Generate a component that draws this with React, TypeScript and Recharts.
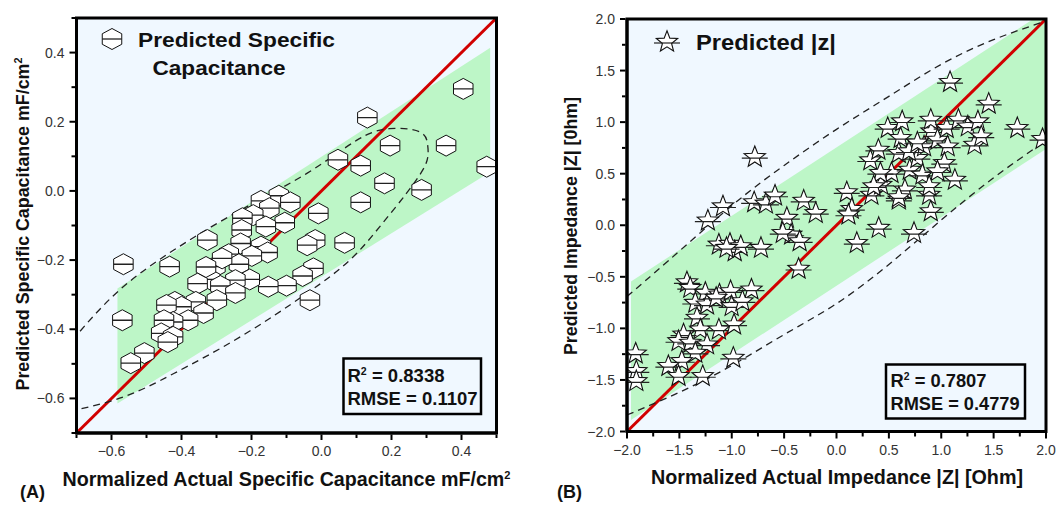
import React from 'react';
import { ComposedChart, Scatter, Line, Area, XAxis, YAxis, CartesianGrid } from 'recharts';

const FONT = '"Liberation Sans", Arial, sans-serif';
const BG = '#f0f8ff';
const BAND = '#bdf6c7';
const RED = '#d10000';

// ---------- (A) specific capacitance ----------
const capActual = [0.405, 0.131, 0.196, 0.356, 0.472, 0.047, 0.112, 0.18, 0.286, 0.112, -0.009, 0.066, -0.018, -0.041, -0.023, -0.054, -0.033, -0.1, -0.152, -0.122, -0.089, -0.173, -0.149, -0.195, -0.105, -0.226, -0.228, -0.159, -0.231, -0.173, -0.154, -0.326, -0.265, -0.199, -0.236, -0.303, -0.434, -0.566, -0.205, -0.246, -0.318, -0.289, -0.354, -0.246, -0.299, -0.359, -0.337, -0.419, -0.4, -0.443, -0.569, -0.381, -0.424, -0.45, -0.458, -0.424, -0.439, -0.506, -0.545, -0.284, -0.33];
const capPredicted = [0.295, 0.212, 0.131, 0.131, 0.07, 0.09, 0.073, 0.022, 0.003, -0.033, -0.065, -0.15, -0.142, -0.157, -0.224, -0.246, -0.316, -0.274, -0.277, -0.014, -0.033, -0.029, -0.05, -0.07, -0.092, -0.079, -0.113, -0.103, -0.152, -0.161, -0.178, -0.142, -0.183, -0.188, -0.212, -0.219, -0.219, -0.212, -0.256, -0.258, -0.256, -0.275, -0.268, -0.295, -0.316, -0.321, -0.353, -0.321, -0.335, -0.33, -0.374, -0.374, -0.379, -0.374, -0.412, -0.422, -0.437, -0.469, -0.498, -0.195, -0.22];

// confidence ellipse outline (runs off the left edge)
const capEllipseX = [-0.712, -0.583, -0.422, -0.232, -0.043, 0.1, 0.194, 0.28, 0.303, 0.304, 0.289, 0.242, 0.166, 0.081, -0.043, -0.232, -0.422, -0.564, -0.712];
const capEllipseY = [-0.432, -0.292, -0.171, -0.056, 0.05, 0.146, 0.18, 0.171, 0.135, 0.1, 0.06, -0.008, -0.104, -0.2, -0.297, -0.422, -0.528, -0.595, -0.636];

// prediction band
const capBandX = [-0.583, 0.482];
const capBandLow = [-0.615, 0.055];
const capBandHigh = [-0.282, 0.414];

const capDomain: [number, number] = [-0.7, 0.5];
const capTicks = [-0.7, -0.6, -0.5, -0.4, -0.3, -0.2, -0.1, 0, 0.1, 0.2, 0.3, 0.4, 0.5];
const capMajorTicks = [-0.6, -0.4, -0.2, 0, 0.2, 0.4];

// ---------- (B) impedance ----------
const zActual = [1.084, 1.453, 1.726, 1.967, -0.78, -1.084, -1.228, -0.786, -0.674, -0.587, -0.313, -0.198, -0.474, -0.433, -0.352, -1.123, -1.017, -0.972, -0.914, -0.721, -0.362, 0.098, 0.146, 0.114, 0.194, 0.403, 0.74, 0.333, 0.426, 0.595, 0.653, 0.884, 0.9, 1.13, 0.323, 0.4, 0.489, 0.627, 0.612, 0.595, 0.525, 0.419, 0.699, 0.772, 0.836, 0.82, 0.907, 0.9, 0.964, 1.052, 1.061, 1.029, 0.964, 1.164, 1.254, 1.35, 1.318, 1.382, 0.692, 0.772, -1.428, -1.396, -1.252, -1.117, -1.011, -0.812, -1.348, -1.236, -1.149, -1.001, -0.898, -1.332, -1.3, -1.123, -0.978, -1.46, -1.508, -1.396, -1.236, -1.348, -1.477, -1.605, -1.508, -1.277, -0.985, -1.917, -1.911, -1.911, -1.05, -0.513, 0.355, 0.885, 0.595];
const zPredicted = [1.387, 1.177, 0.941, 0.835, 0.66, 0.182, 0.044, 0.221, 0.208, 0.286, 0.237, 0.118, 0.07, -0.092, -0.157, -0.189, -0.182, -0.254, -0.205, -0.221, -0.424, 0.318, 0.157, 0.102, -0.173, -0.027, -0.076, 0.295, 0.392, 0.247, 0.344, 0.295, 0.134, 0.44, 0.628, 0.731, 0.941, 1.006, 0.844, 0.699, 0.505, 0.505, 0.537, 0.651, 0.763, 0.489, 0.909, 1.022, 0.828, 0.941, 0.763, 0.602, 0.521, 1.022, 0.957, 1.006, 0.78, 0.86, 0.715, 0.8, -0.554, -0.609, -0.657, -0.673, -0.641, -0.625, -0.754, -0.77, -0.705, -0.786, -0.738, -0.899, -1.012, -1.012, -0.964, -1.06, -1.125, -1.141, -1.157, -1.238, -1.319, -1.367, -1.464, -1.464, -1.286, -1.245, -1.416, -1.513, -0.221, -0.076, 0.376, 0.376, 0.27];

const zUpperX = [-2.0, -1.6, -1.0, -0.5, 0.0, 0.5, 1.0, 1.5, 2.0];
const zUpperY = [-0.69, -0.34, 0.19, 0.58, 0.93, 1.25, 1.56, 1.8, 1.98];
const zLowerX = [-2.0, -1.5, -1.0, -0.5, 0.0, 0.5, 1.0, 1.5, 2.0];
const zLowerY = [-1.84, -1.62, -1.36, -1.06, -0.76, -0.38, 0.05, 0.46, 0.82];

const zBandX = [-1.962, 2.0];
const zBandLow = [-1.888, 0.74];
const zBandHigh = [-0.546, 2.08];

const zDomain: [number, number] = [-2, 2];
const zTicks = [-2, -1.75, -1.5, -1.25, -1, -0.75, -0.5, -0.25, 0, 0.25, 0.5, 0.75, 1, 1.25, 1.5, 1.75, 2];
const zMajorTicks = [-2, -1.5, -1, -0.5, 0, 0.5, 1, 1.5, 2];

// plot boxes (chart-relative) and where each chart sits on the page
const boxA = { offset: 0, width: 530, left: 76.5, right: 496.5, top: 18, bottom: 433 };
const boxB = { offset: 530, width: 526, left: 97, right: 516, top: 19, bottom: 431.5 };

type Pt = { x: number; y: number };
type Box = typeof boxA;
const zip = (xs: number[], ys: number[]): Pt[] => xs.map((x, i) => ({ x, y: ys[i] }));
const bandRows = (xs: number[], lo: number[], hi: number[]) => xs.map((x, i) => ({ x, band: [lo[i], hi[i]] }));

const fmt = (v: number) => (Math.abs(v) < 1e-9 ? '0.0' : (v < 0 ? '\u2212' : '') + Math.abs(v).toFixed(1));
const isMajor = (majors: number[], v: number) => majors.some((m) => Math.abs(m - v) < 1e-6);

function Hexagon(props: any) {
  const { cx, cy } = props;
  if (cx == null || cy == null) return <g />;
  const w = 9.75;
  const h = 10.5;
  const pts = [[0, -h], [w, -h / 2], [w, h / 2], [0, h], [-w, h / 2], [-w, -h / 2]];
  return (
    <g>
      <polygon points={pts.map((p) => `${cx + p[0]},${cy + p[1]}`).join(' ')} fill="#fff" stroke="#111" strokeWidth={1} />
      <line x1={cx - w} x2={cx + w} y1={cy} y2={cy} stroke="#222" strokeWidth={1.3} />
    </g>
  );
}

function Star(props: any) {
  const { cx, cy } = props;
  if (cx == null || cy == null) return <g />;
  const R = 11.2;
  const r = 4.8;
  const pts: string[] = [];
  for (let i = 0; i < 10; i++) {
    const a = -Math.PI / 2 + (i * Math.PI) / 5;
    const rad = i % 2 === 0 ? R : r;
    pts.push(`${cx + rad * Math.cos(a)},${cy + rad * Math.sin(a)}`);
  }
  return (
    <g>
      <polygon points={pts.join(' ')} fill="#fff" stroke="#111" strokeWidth={1.1} />
      <line x1={cx - 13} x2={cx + 13} y1={cy + 1} y2={cy + 1} stroke="#222" strokeWidth={1.2} />
    </g>
  );
}

const makeXTick = (majors: number[]) => (props: any) => {
  const { x, y, payload } = props;
  const major = isMajor(majors, payload.value);
  return (
    <g>
      <line x1={x} x2={x} y1={y + 1.5} y2={y + (major ? 7 : 5)} stroke="#000" strokeWidth={2} />
      {major && (
        <text x={x} y={y + 23} textAnchor="middle" fontSize={14} fill="#333" fontFamily={FONT}>
          {fmt(payload.value)}
        </text>
      )}
    </g>
  );
};

const makeYTick = (majors: number[]) => (props: any) => {
  const { x, y, payload } = props;
  const major = isMajor(majors, payload.value);
  return (
    <g>
      <line x1={x - 1.5} x2={x - (major ? 7 : 5)} y1={y} y2={y} stroke="#000" strokeWidth={2} />
      {major && (
        <text x={x - 12} y={y + 5} textAnchor="end" fontSize={14} fill="#333" fontFamily={FONT}>
          {fmt(payload.value)}
        </text>
      )}
    </g>
  );
};

const titleLabel = (x: number, y: number, len: number, size: number, text: React.ReactNode, rotate: boolean) => ({
  content: () => (
    <text
      x={x}
      y={y}
      textAnchor="middle"
      fontSize={size}
      fontWeight="bold"
      fontFamily={FONT}
      fill="#111"
      textLength={len}
      lengthAdjust="spacingAndGlyphs"
      transform={rotate ? `rotate(-90 ${x} ${y})` : undefined}
    >
      {text}
    </text>
  ),
});

type PanelProps = {
  box: Box;
  domain: [number, number];
  ticks: number[];
  majors: number[];
  points: Pt[];
  shape: (p: any) => React.ReactElement;
  band: { x: number; band: number[] }[];
  curves: Pt[][];
  xTitle: { x: number; y: number; len: number; text: React.ReactNode };
  yTitle: { x: number; y: number; len: number; text: React.ReactNode };
};

function Panel(p: PanelProps) {
  const height = 506;
  const b = p.box;
  const frame = { stroke: '#000', strokeWidth: 3 };
  const identity = zip(p.domain, p.domain);
  return (
    <ComposedChart width={b.width} height={height} margin={{ top: b.top, right: b.width - b.right, bottom: 0, left: 0 }}>
      <CartesianGrid fill={BG} horizontal={false} vertical={false} />
      <XAxis
        dataKey="x"
        type="number"
        domain={p.domain}
        allowDataOverflow
        ticks={p.ticks}
        interval={0}
        height={height - b.bottom}
        tickSize={0}
        tickMargin={0}
        tickLine={false}
        axisLine={frame}
        tick={makeXTick(p.majors)}
        label={titleLabel(p.xTitle.x, p.xTitle.y, p.xTitle.len, 19.5, p.xTitle.text, false)}
      />
      <YAxis
        dataKey="y"
        type="number"
        domain={p.domain}
        allowDataOverflow
        ticks={p.ticks}
        interval={0}
        width={b.left}
        tickSize={0}
        tickMargin={0}
        tickLine={false}
        axisLine={frame}
        tick={makeYTick(p.majors)}
        label={titleLabel(p.yTitle.x, p.yTitle.y, p.yTitle.len, 18, p.yTitle.text, true)}
      />
      <Area data={p.band} dataKey="band" type="linear" stroke="none" fill={BAND} fillOpacity={1} isAnimationActive={false} />
      <Line data={identity} dataKey="y" type="linear" stroke={RED} strokeWidth={3} dot={false} isAnimationActive={false} />
      {p.curves.map((c, i) => (
        <Line key={i} data={c} dataKey="y" type="natural" stroke="#222" strokeWidth={1.3} strokeDasharray="7 5" dot={false} isAnimationActive={false} />
      ))}
      <Scatter data={p.points} shape={p.shape} isAnimationActive={false} />
    </ComposedChart>
  );
}

const Frame = ({ box }: { box: Box }) => (
  <rect
    x={box.offset + box.left}
    y={box.top}
    width={box.right - box.left}
    height={box.bottom - box.top}
    fill="none"
    stroke="#000"
    strokeWidth={3}
  />
);

export default function App() {
  const capPoints = zip(capActual, capPredicted);
  const zPoints = zip(zActual, zPredicted);
  return (
    <div style={{ position: 'absolute', left: 0, top: 0, width: 1056, height: 506, background: '#fff', fontFamily: FONT }}>
      <div style={{ position: 'absolute', left: boxA.offset, top: 0 }}>
        <Panel
          box={boxA}
          domain={capDomain}
          ticks={capTicks}
          majors={capMajorTicks}
          points={capPoints}
          shape={Hexagon}
          band={bandRows(capBandX, capBandLow, capBandHigh)}
          curves={[zip(capEllipseX, capEllipseY)]}
          xTitle={{ x: 286.5, y: 486, len: 448, text: <>Normalized Actual Specific Capacitance mF/cm<tspan dy={-7} fontSize={11}>2</tspan></> }}
          yTitle={{ x: 28.5, y: 224, len: 333, text: <>Predicted Specific Capacitance mF/cm<tspan dy={-7} fontSize={11}>2</tspan></> }}
        />
      </div>
      <div style={{ position: 'absolute', left: boxB.offset, top: 0 }}>
        <Panel
          box={boxB}
          domain={zDomain}
          ticks={zTicks}
          majors={zMajorTicks}
          points={zPoints}
          shape={Star}
          band={bandRows(zBandX, zBandLow, zBandHigh)}
          curves={[zip(zUpperX, zUpperY), zip(zLowerX, zLowerY)]}
          xTitle={{ x: 307, y: 484, len: 372, text: 'Normalized Actual Impedance |Z| [Ohm]' }}
          yTitle={{ x: 47, y: 226, len: 258, text: 'Predicted Impedance |Z| [0hm]' }}
        />
      </div>
      <svg width={1056} height={506} style={{ position: 'absolute', left: 0, top: 0, pointerEvents: 'none' }} fontFamily={FONT}>
        <Frame box={boxA} />
        <Frame box={boxB} />

        <Hexagon cx={112} cy={39} />
        <text x={138} y={47} fontSize={21} fontWeight="bold" fill="#111" textLength={197} lengthAdjust="spacingAndGlyphs">Predicted Specific</text>
        <text x={152.5} y={75} fontSize={21} fontWeight="bold" fill="#111" textLength={133} lengthAdjust="spacingAndGlyphs">Capacitance</text>
        <Star cx={667} cy={42} />
        <text x={696} y={50} fontSize={22} fontWeight="bold" fill="#111" textLength={140} lengthAdjust="spacingAndGlyphs">Predicted |z|</text>

        <rect x={343.5} y={358.5} width={137.5} height={55.5} fill="none" stroke="#000" strokeWidth={2.5} />
        <text x={347.5} y={382} fontSize={17.5} fontWeight="bold" fill="#111" textLength={97} lengthAdjust="spacingAndGlyphs">
          R<tspan dy={-7} fontSize={10}>2</tspan><tspan dy={7}> = 0.8338</tspan>
        </text>
        <text x={347.5} y={405} fontSize={17.5} fontWeight="bold" fill="#111" textLength={130} lengthAdjust="spacingAndGlyphs">RMSE = 0.1107</text>

        <rect x={886} y={364.5} width={139} height={54} fill="none" stroke="#000" strokeWidth={2.5} />
        <text x={890.5} y={387} fontSize={17.5} fontWeight="bold" fill="#111" textLength={96} lengthAdjust="spacingAndGlyphs">
          R<tspan dy={-7} fontSize={10}>2</tspan><tspan dy={7}> = 0.7807</tspan>
        </text>
        <text x={890.5} y={410} fontSize={17.5} fontWeight="bold" fill="#111" textLength={129} lengthAdjust="spacingAndGlyphs">RMSE = 0.4779</text>

        <text x={20} y={498} fontSize={18} fontWeight="bold" fill="#111">(A)</text>
        <text x={557} y={498} fontSize={18} fontWeight="bold" fill="#111">(B)</text>
      </svg>
    </div>
  );
}
